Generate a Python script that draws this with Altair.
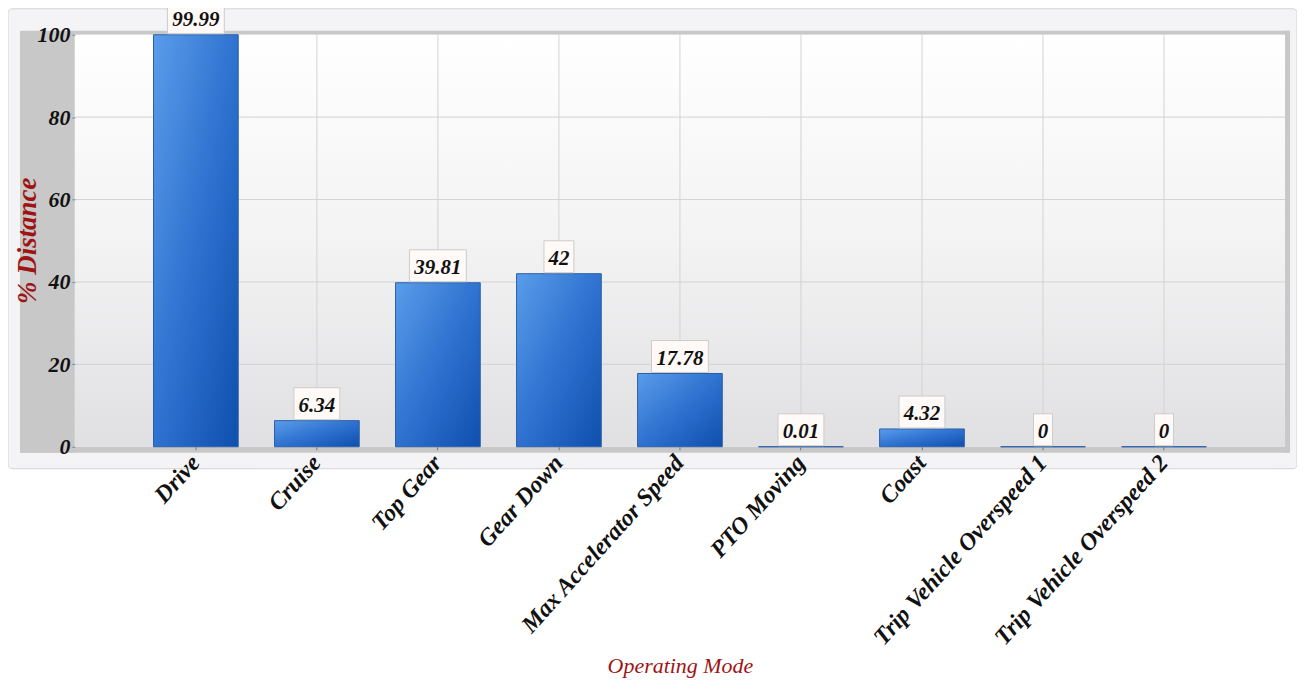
import altair as alt
import pandas as pd

# ---- data ----
modes = ["Drive", "Cruise", "Top Gear", "Gear Down", "Max Accelerator Speed",
         "PTO Moving", "Coast", "Trip Vehicle Overspeed 1", "Trip Vehicle Overspeed 2"]
distance = [99.99, 6.34, 39.81, 42, 17.78, 0.01, 4.32, 0, 0]
value_labels = ["99.99", "6.34", "39.81", "42", "17.78", "0.01", "4.32", "0", "0"]
y_ticks = [0, 20, 40, 60, 80, 100]
grid_values = [20, 40, 60, 80]

W, H = 1213, 413
TOP = 26
FONT = "Liberation Serif"
RED = "#9E1414"

df = pd.DataFrame({"mode": modes, "distance": distance, "label": value_labels})
grid_df = pd.DataFrame({"distance": grid_values})
one = pd.DataFrame({"k": [0]})

xscale = alt.Scale(paddingInner=0.3, paddingOuter=0.65)
yscale = alt.Scale(domain=[0, 100], nice=False)

x_axis = alt.Axis(
    title="Operating Mode", labelAngle=-48, labelAlign="right", labelBaseline="middle",
    labelFont=FONT, labelFontSize=24, labelFontStyle="italic", labelFontWeight="bold",
    labelColor="#111111", labelPadding=9, labelLimit=400,
    tickColor="#777777", tickSize=3, domain=False, grid=False,
    titleFont=FONT, titleFontSize=22, titleFontStyle="italic", titleFontWeight="normal",
    titleColor=RED, titleY=226, titleBaseline="alphabetic", zindex=1,
)
y_axis = alt.Axis(
    title="% Distance", values=y_ticks, labelFont=FONT, labelFontSize=22,
    labelFontStyle="italic", labelFontWeight="bold", labelColor="#111111",
    labelPadding=2, tickColor="#888888", tickSize=3, domain=False, grid=False,
    titleFont=FONT, titleFontSize=27, titleFontStyle="italic", titleFontWeight="bold",
    titleColor=RED, titleX=-47, titleY=206, titleAngle=-90, titleBaseline="middle",
    zindex=1,
)

X = alt.X("mode:N", sort=modes, scale=xscale, axis=x_axis)
Y = alt.Y("distance:Q", scale=yscale, axis=y_axis)

def deco_rect(x, x2, y, y2, **kw):
    return alt.Chart(one).mark_rect(**kw).encode(
        x=alt.value(x), x2=alt.value(x2), y=alt.value(y), y2=alt.value(y2))

panel = deco_rect(-67, W + 12, -TOP, H + 22, fill="#F4F4F6", stroke="#D4D4D8",
                  strokeWidth=1, cornerRadius=4)
frame_left = deco_rect(-55, 0, -4, H + 6, fill="#C8C8C8")
frame_top = deco_rect(0, W + 5, -4, 0, fill="#C8C8C8")
frame_right = deco_rect(W, W + 5, -4, H + 6, fill="#C8C8C8")
frame_bottom = deco_rect(-55, W + 5, H, H + 6, fill="#C8C8C8")
plot_bg = deco_rect(0, W, 0, H, fill=alt.LinearGradient(
    gradient="linear", x1=0, y1=0, x2=0, y2=1,
    stops=[alt.GradientStop(color="#FFFFFF", offset=0),
           alt.GradientStop(color="#F3F3F4", offset=0.5),
           alt.GradientStop(color="#E0E0E2", offset=1)]))

hgrid = alt.Chart(grid_df).mark_rule(color="#D3D3D3", strokeWidth=1).encode(y=Y)
vgrid = alt.Chart(df).mark_rule(color="#D3D3D3", strokeWidth=1).encode(x=X)

bar_fill = alt.LinearGradient(
    gradient="linear", x1=0, y1=0, x2=1, y2=1,
    stops=[alt.GradientStop(color="#5A9DEA", offset=0),
           alt.GradientStop(color="#2F72D0", offset=0.5),
           alt.GradientStop(color="#0F4FAE", offset=1)])

bars = alt.Chart(df).mark_bar(fill=bar_fill, stroke="#2A5FA8", strokeWidth=1).encode(
    x=X, y=Y)

boxes = alt.Chart(df).transform_calculate(
    hw="((11 * length(datum.label)) - (indexof(datum.label, '.') >= 0 ? 6 : 0) + 8) / 32"
).transform_calculate(
    shape="'M' + (-datum.hw) + ',-1H' + datum.hw + 'V1H' + (-datum.hw) + 'Z'"
).mark_point(filled=True, fill="#FFFAF7", stroke="#CCCCCC", strokeWidth=1,
             opacity=1, size=1024, yOffset=-17).encode(
    x=X, y=Y,
    shape=alt.Shape("shape:N", scale=None, legend=None),
)

texts = alt.Chart(df).mark_text(
    font=FONT, fontSize=21, fontStyle="italic", fontWeight="bold", color="#111111",
    baseline="middle", dy=-15).encode(
    x=X, y=Y, text="label:N",
)

chart = alt.layer(
    panel, frame_left, frame_top, frame_right, frame_bottom, plot_bg,
    hgrid, vgrid, bars, boxes, texts
).properties(
    width=W, height=H,
    autosize=alt.AutoSizeParams(type="none"),
    padding={"left": 67, "top": TOP, "right": 12, "bottom": 231},
    background="white",
).configure_view(stroke=None)

chart.save("out.html", embed_options={"renderer": "svg", "actions": False})
